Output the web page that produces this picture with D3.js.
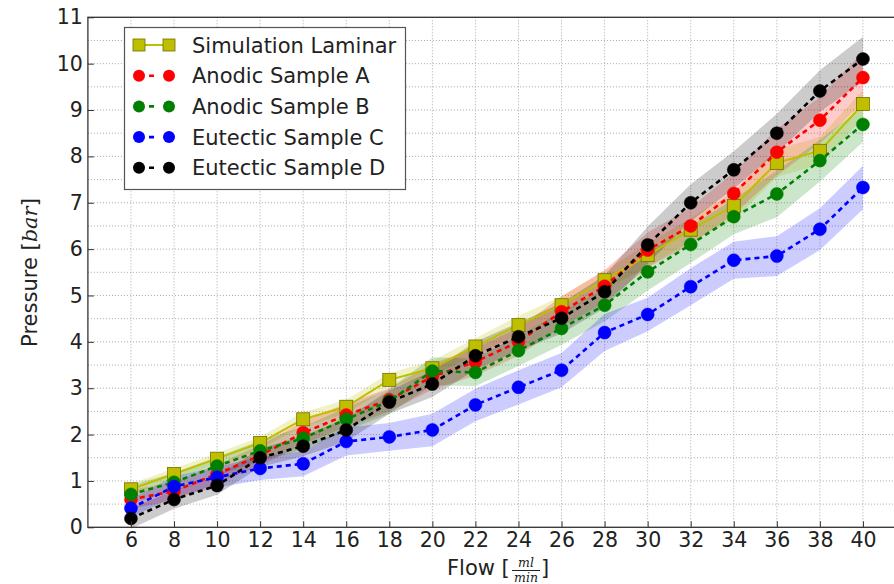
<!DOCTYPE html>
<html><head><meta charset="utf-8">
<script src="https://cdn.jsdelivr.net/npm/d3@7"></script>
<style>body{margin:0;background:#fff}svg{display:block}</style>
</head><body>
<svg id="c" width="894" height="584"></svg>
<script>
const flows = [6,8,10,12,14,16,18,20,22,24,26,28,30,32,34,36,38,40];
const xTicks = [6,8,10,12,14,16,18,20,22,24,26,28,30,32,34,36,38,40];
const yTicks = [0,1,2,3,4,5,6,7,8,9,10,11];

const laminar = [0.82,1.15,1.48,1.82,2.33,2.60,3.18,3.43,3.90,4.36,4.79,5.33,5.87,6.42,6.93,7.86,8.12,9.13];
const sampleA = [0.60,0.78,1.15,1.55,2.04,2.42,2.75,3.25,3.57,4.00,4.65,5.20,5.98,6.50,7.20,8.09,8.78,9.70];
const sampleB = [0.71,0.97,1.32,1.65,1.92,2.33,2.72,3.37,3.34,3.81,4.29,4.79,5.51,6.10,6.70,7.19,7.91,8.69];
const sampleC = [0.41,0.88,1.08,1.27,1.37,1.85,1.95,2.10,2.64,3.02,3.39,4.20,4.59,5.19,5.76,5.85,6.43,7.33];
const sampleD = [0.19,0.60,0.90,1.50,1.75,2.10,2.70,3.09,3.70,4.11,4.51,5.08,6.09,7.00,7.71,8.50,9.41,10.10];

const laminarErr = [0.12,0.12,0.12,0.13,0.15,0.15,0.15,0.16,0.18,0.2,0.2,0.2,0.25,0.25,0.3,0.3,0.3,0.3];
const sampleAErr = [0.2,0.2,0.2,0.22,0.25,0.25,0.25,0.28,0.3,0.3,0.33,0.35,0.38,0.4,0.45,0.5,0.5,0.55];
const sampleBErr = [0.2,0.2,0.2,0.22,0.25,0.25,0.27,0.3,0.3,0.33,0.35,0.35,0.4,0.4,0.38,0.5,0.45,0.38];
const sampleCErr = [0.2,0.22,0.22,0.25,0.27,0.3,0.3,0.35,0.35,0.37,0.37,0.4,0.36,0.4,0.4,0.43,0.45,0.47];
const sampleDErr = [0.22,0.2,0.2,0.2,0.22,0.25,0.25,0.28,0.3,0.3,0.33,0.35,0.4,0.4,0.4,0.42,0.45,0.48];

const seriesNames = ["Simulation Laminar","Anodic Sample A","Anodic Sample B","Eutectic Sample C","Eutectic Sample D"];
const seriesColors = ["#bfbf00","#ff0000","#008000","#0000ff","#000000"];

const series = [
  {name:seriesNames[0], color:seriesColors[0], vals:laminar, err:laminarErr, marker:"square", dash:null},
  {name:seriesNames[1], color:seriesColors[1], vals:sampleA, err:sampleAErr, marker:"circle", dash:"5,4"},
  {name:seriesNames[2], color:seriesColors[2], vals:sampleB, err:sampleBErr, marker:"circle", dash:"5,4"},
  {name:seriesNames[3], color:seriesColors[3], vals:sampleC, err:sampleCErr, marker:"circle", dash:"5,4"},
  {name:seriesNames[4], color:seriesColors[4], vals:sampleD, err:sampleDErr, marker:"circle", dash:"5,4"}
];

const svg = d3.select("#c");
const font = "'DejaVu Sans', sans-serif";
const pL = 87.9, pR = 906, pT = 17.3, pB = 527.3;
const x = d3.scaleLinear().domain([4,42]).range([pL,pR]);
const y = d3.scaleLinear().domain([0,11]).range([pB,pT]);

// grid
const grid = svg.append("g");
d3.range(0, 11.01, 0.5).forEach(v => {
  grid.append("line").attr("x1",pL).attr("x2",pR).attr("y1",y(v)).attr("y2",y(v))
    .attr("stroke","#a8a8a8").attr("stroke-width",1).attr("stroke-dasharray","1,2");
});
xTicks.forEach(v => {
  grid.append("line").attr("x1",x(v)).attr("x2",x(v)).attr("y1",pT).attr("y2",pB)
    .attr("stroke","#a8a8a8").attr("stroke-width",1).attr("stroke-dasharray","1,2");
});

// bands
series.forEach(s => {
  const area = d3.area().x((d,i)=>x(flows[i])).y0((d,i)=>y(d - s.err[i])).y1((d,i)=>y(d + s.err[i]));
  svg.append("path").attr("d", area(s.vals)).attr("fill", s.color).attr("fill-opacity", s.color==="#bfbf00"?0.22:0.2).attr("stroke","none");
});

// lines + markers
series.forEach(s => {
  const line = d3.line().x((d,i)=>x(flows[i])).y(d=>y(d));
  const p = svg.append("path").attr("d", line(s.vals)).attr("fill","none").attr("stroke", s.color)
    .attr("stroke-width", s.dash ? 2.6 : 2);
  if (s.dash) p.attr("stroke-dasharray", s.dash);
  const g = svg.append("g");
  s.vals.forEach((v,i) => {
    if (s.marker === "square") {
      g.append("rect").attr("x", x(flows[i])-6.5).attr("y", y(v)-6.5).attr("width",13).attr("height",13)
        .attr("fill", s.color).attr("stroke","#6f6f00").attr("stroke-width",0.8);
    } else {
      g.append("circle").attr("cx", x(flows[i])).attr("cy", y(v)).attr("r",6.5)
        .attr("fill", s.color).attr("stroke", s.color).attr("stroke-width",0.5);
    }
  });
});

// frame
svg.append("rect").attr("x",pL).attr("y",pT).attr("width",pR-pL).attr("height",pB-pT)
  .attr("fill","none").attr("stroke","#333").attr("stroke-width",1.3);

// axes
const xAxis = d3.axisBottom(x).tickValues(xTicks).tickSize(-6).tickPadding(5).tickFormat(d3.format("d"));
const gx = svg.append("g").attr("transform",`translate(0,${pB})`).call(xAxis);
const yAxis = d3.axisLeft(y).tickValues(yTicks).tickSize(-6).tickPadding(5).tickFormat(d3.format("d"));
const gy = svg.append("g").attr("transform",`translate(${pL},0)`).call(yAxis);
[gx,gy].forEach(g => {
  g.select(".domain").remove();
  g.selectAll(".tick line").attr("stroke","#333");
  g.selectAll(".tick text").attr("font-family",font).attr("font-size",20.5).attr("fill","#222");
});

// axis labels
const yl = svg.append("text").attr("transform","translate(37,272.5) rotate(-90)").attr("text-anchor","middle")
  .attr("font-family",font).attr("font-size",21).attr("fill","#222");
yl.append("tspan").text("Pressure [");
yl.append("tspan").attr("font-family","'DejaVu Serif', serif").attr("font-style","italic").text("bar");
yl.append("tspan").text("]");

const xl = svg.append("g").attr("font-family",font).attr("fill","#222");
xl.append("text").attr("x",447).attr("y",575).attr("font-size",21).text("Flow [");
xl.append("text").attr("x",526).attr("y",567).attr("font-size",12.5).attr("text-anchor","middle")
  .attr("font-family","'DejaVu Serif', serif").attr("font-style","italic").text("ml");
xl.append("line").attr("x1",512).attr("x2",540).attr("y1",570.5).attr("y2",570.5).attr("stroke","#222").attr("stroke-width",1);
xl.append("text").attr("x",526).attr("y",582).attr("font-size",12.5).attr("text-anchor","middle")
  .attr("font-family","'DejaVu Serif', serif").attr("font-style","italic").text("min");
xl.append("text").attr("x",541).attr("y",575).attr("font-size",21).text("]");

// legend
const lg = svg.append("g");
lg.append("rect").attr("x",124.5).attr("y",27.5).attr("width",281).attr("height",162)
  .attr("fill","#fff").attr("stroke","#555").attr("stroke-width",1.2);
series.forEach((s,i) => {
  const cy = 45 + i*30.7;
  const l = lg.append("line").attr("x1",139).attr("x2",169).attr("y1",cy).attr("y2",cy)
    .attr("stroke",s.color).attr("stroke-width", s.dash?2.6:2);
  if (s.dash) l.attr("stroke-dasharray","0,10,5,15");
  [139,169].forEach(cx => {
    if (s.marker === "square") {
      lg.append("rect").attr("x",cx-6).attr("y",cy-6).attr("width",12).attr("height",12)
        .attr("fill",s.color).attr("stroke","#6f6f00").attr("stroke-width",0.8);
    } else {
      lg.append("circle").attr("cx",cx).attr("cy",cy).attr("r",6).attr("fill",s.color);
    }
  });
  lg.append("text").attr("x",192).attr("y",cy+7.5).attr("font-family",font).attr("font-size",21)
    .attr("fill","#222").text(s.name);
});
</script>
</body></html>
